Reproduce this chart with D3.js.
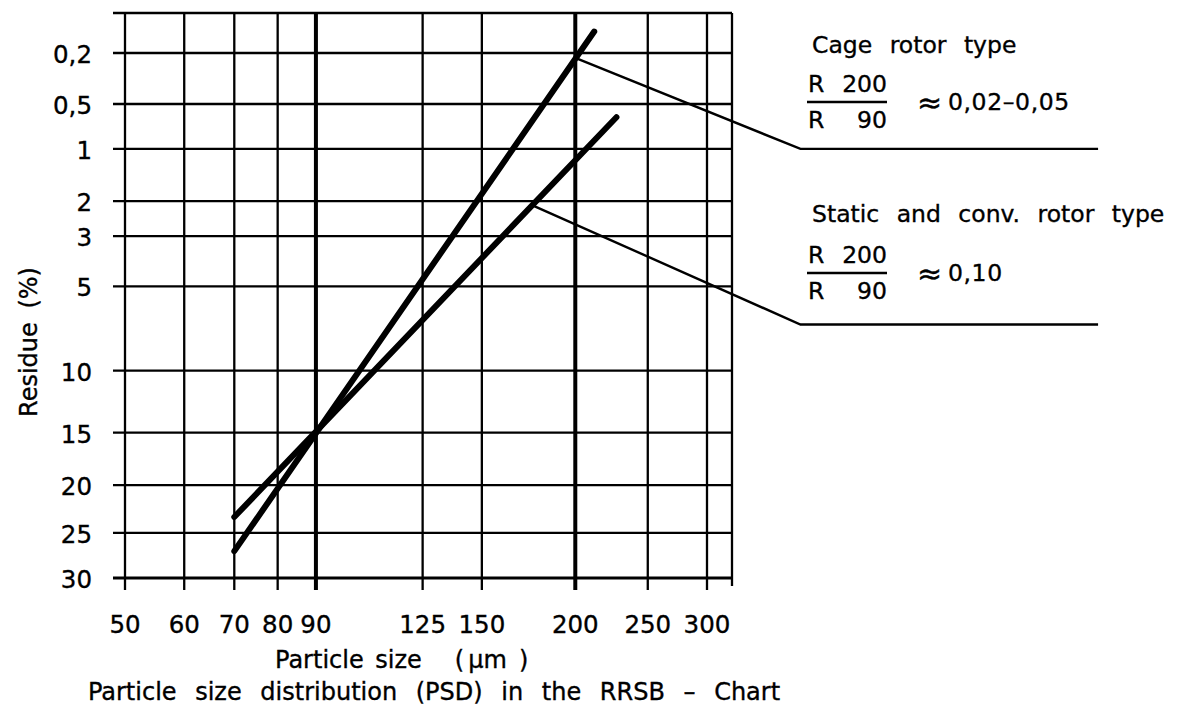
<!DOCTYPE html>
<html>
<head>
<meta charset="utf-8">
<script src="https://cdn.jsdelivr.net/npm/d3@7"></script>
<style>
  html, body { margin: 0; padding: 0; background: #fff; }
  svg { display: block; }
  text { font-family: "DejaVu Sans", sans-serif; fill: #000; stroke: #000; stroke-width: 0.35px; }
</style>
</head>
<body>
<svg id="chart" width="1184" height="713"></svg>
<script>
// ---- data ----
const xTicks = [50, 60, 70, 80, 90, 125, 150, 200, 250, 300];
const xThick = [90, 200];
const yTicks = [0.2, 0.5, 1, 2, 3, 5, 10, 15, 20, 25, 30];
const yTickLabels = ["0,2", "0,5", "1", "2", "3", "5", "10", "15", "20", "25", "30"];
const cageLine = [[70, 27], [212, 0.13]];
const staticLine = [[70, 23.3], [227, 0.62]];
const cageLeader = [[200, 0.22], [400, 1], [1000, 1]];
const staticLeader = [[175, 2.1], [400, 7], [1000, 7]];
const xTitle = "Particle size";
const xUnit = ["(", "µm", ")"];
const yTitle = "Residue (%)";
const subtitle = "Particle size distribution (PSD) in the RRSB – Chart";
const cageTitle = "Cage rotor type";
const cageRatio = "0,02–0,05";
const staticTitle = "Static and conv. rotor type";
const staticRatio = "0,10";

// ---- layout ----
const frameTop = 13, frameRight = 732, stub = 12;

// RRSB transform: ln(ln(100/R))
const rrsb = R => Math.log(Math.log(100 / R));
const x = d3.scaleLog().domain([50, 300]).range([125, 707]);
const yLin = d3.scaleLinear().domain([rrsb(30), rrsb(0.2)]).range([578, 53]);
const y = R => yLin(rrsb(R));

const frameLeft = x(50), frameBottom = y(30);
const svg = d3.select("#chart");

// horizontal grid lines (with stubs to the left)
svg.append("g").selectAll("line").data(yTicks).join("line")
  .attr("x1", frameLeft - stub).attr("x2", frameRight)
  .attr("y1", d => y(d)).attr("y2", d => y(d))
  .attr("stroke", "#000").attr("stroke-width", d => d === 30 ? 2.8 : 2.3);
// top frame line
svg.append("line").attr("x1", frameLeft - stub).attr("x2", frameRight)
  .attr("y1", frameTop).attr("y2", frameTop).attr("stroke", "#000").attr("stroke-width", 2.3);

// vertical grid lines (with stubs below)
svg.append("g").selectAll("line").data(xTicks).join("line")
  .attr("x1", d => x(d)).attr("x2", d => x(d))
  .attr("y1", frameTop).attr("y2", frameBottom + stub)
  .attr("stroke", "#000").attr("stroke-width", d => xThick.includes(d) ? 4 : 2.3);
// right frame line
svg.append("line").attr("x1", frameRight).attr("x2", frameRight)
  .attr("y1", frameTop).attr("y2", frameBottom + 8).attr("stroke", "#000").attr("stroke-width", 2.3);

// y tick labels
svg.append("g").selectAll("text").data(yTicks).join("text")
  .attr("x", 92).attr("y", d => y(d) + 10)
  .attr("text-anchor", "end").attr("font-size", 24.5)
  .text((d, i) => yTickLabels[i]);

// x tick labels
svg.append("g").selectAll("text").data(xTicks).join("text")
  .attr("x", d => x(d)).attr("y", 633)
  .attr("text-anchor", "middle").attr("font-size", 24.5)
  .text(d => d);

// axis titles
const xt = svg.append("text").attr("x", 275).attr("y", 668)
  .attr("font-size", 24).attr("word-spacing", 4);
xt.append("tspan").text(xTitle);
xt.append("tspan").attr("dx", 33).text(xUnit[0]);
xt.append("tspan").attr("dx", 4).text(xUnit[1]);
xt.append("tspan").attr("dx", 12).text(xUnit[2]);

svg.append("text").attr("transform", "translate(37,342) rotate(-90)")
  .attr("text-anchor", "middle").attr("font-size", 24).attr("word-spacing", 6)
  .text(yTitle);

svg.append("text").attr("x", 434).attr("y", 700)
  .attr("text-anchor", "middle").attr("font-size", 24).attr("word-spacing", 11)
  .text(subtitle);

// data lines
const line = d3.line().x(d => x(d[0])).y(d => y(d[1]));
[cageLine, staticLine].forEach(s => {
  svg.append("path").attr("d", line(s)).attr("fill", "none")
    .attr("stroke", "#000").attr("stroke-width", 6).attr("stroke-linecap", "round");
});

// leader lines
[cageLeader, staticLeader].forEach(s => {
  svg.append("path").attr("d", line(s)).attr("fill", "none")
    .attr("stroke", "#000").attr("stroke-width", 2.4);
});

// annotations
function annotation(title, titleY, barY, ratio) {
  svg.append("text").attr("x", 812).attr("y", titleY).attr("font-size", 23.5)
    .attr("word-spacing", 10).text(title);
  svg.append("text").attr("x", 808).attr("y", barY - 10).attr("font-size", 23.5).text("R");
  svg.append("text").attr("x", 887).attr("y", barY - 10).attr("font-size", 23.5)
    .attr("text-anchor", "end").text("200");
  svg.append("line").attr("x1", 807).attr("x2", 887).attr("y1", barY).attr("y2", barY)
    .attr("stroke", "#000").attr("stroke-width", 2.6);
  svg.append("text").attr("x", 808).attr("y", barY + 26).attr("font-size", 23.5).text("R");
  svg.append("text").attr("x", 887).attr("y", barY + 26).attr("font-size", 23.5)
    .attr("text-anchor", "end").text("90");
  svg.append("text").attr("x", 917).attr("y", barY + 11).attr("font-size", 30).text("≈");
  svg.append("text").attr("x", 948).attr("y", barY + 8).attr("font-size", 23.5)
    .attr("letter-spacing", 0.6).text(ratio);
}
annotation(cageTitle, 53, 102, cageRatio);
annotation(staticTitle, 222, 273, staticRatio);
</script>
</body>
</html>
